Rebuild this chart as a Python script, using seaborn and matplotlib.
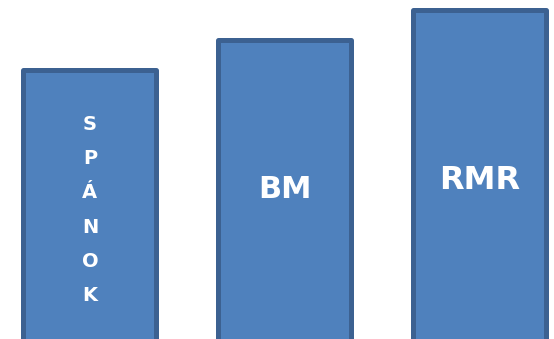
import matplotlib
matplotlib.use("Agg")
import matplotlib.pyplot as plt
import seaborn as sns
import pandas as pd

categories = ["SPÁNOK", "BM", "RMR"]
values = [273, 303, 333]

df = pd.DataFrame({"cat": categories, "val": values})

sns.set_theme(style="white")
plt.rcParams["font.family"] = ["DejaVu Sans"]

fig = plt.figure(figsize=(5.54, 3.39), dpi=100)
ax = fig.add_axes([0, 0, 1, 1])
sns.barplot(data=df, x="cat", y="val", ax=ax, color="#4F81BD", saturation=1,
            width=0.682, edgecolor="#3C6191", linewidth=3.6)
for p in ax.patches:
    p.set_joinstyle("round")

TOP = 343
ax.set_xlim(-0.4615, 2.382)
ax.set_ylim(4, TOP)
ax.axis("off")

# vertical label in first bar
word = categories[0]
base = TOP - 130
for k, ch in enumerate(word):
    ax.text(0, base - k * 34.2, ch, ha="center", va="baseline", color="white",
            fontsize=14, fontweight="bold")

ax.text(1, TOP - 190, categories[1], ha="center", va="center", color="white",
        fontsize=22, fontweight="bold")
ax.text(2, TOP - 180.5, categories[2], ha="center", va="center", color="white",
        fontsize=23, fontweight="bold")

fig.savefig("out.png", dpi=100, facecolor="white")
